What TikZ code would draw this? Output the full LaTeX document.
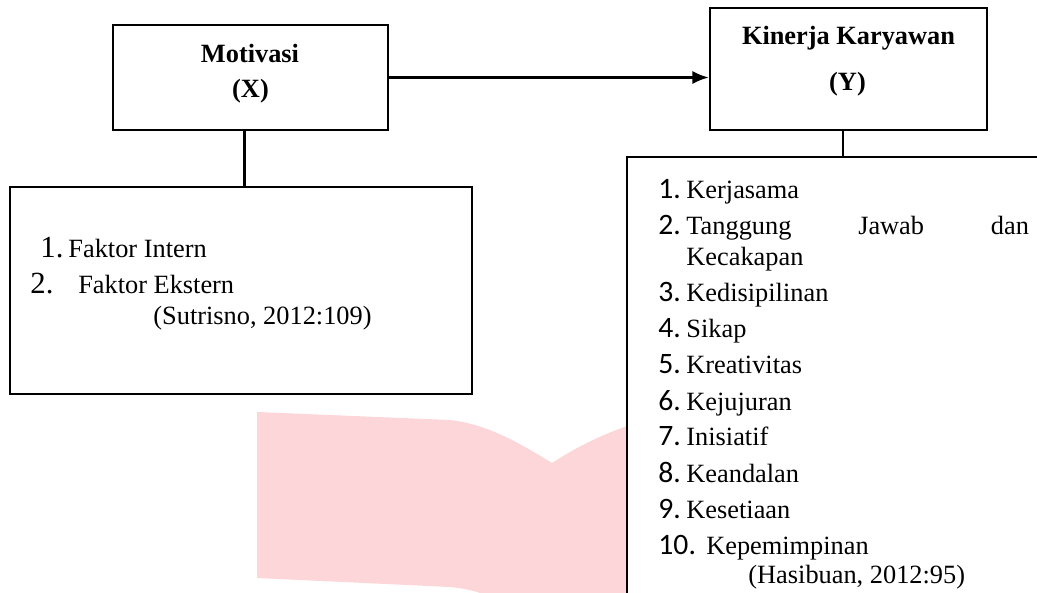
\documentclass[tikz,border=0pt]{standalone}
\usepackage{fontspec}
\setmainfont{Liberation Serif}
\newfontfamily\numfont{Carlito}
\usetikzlibrary{arrows.meta}
\definecolor{wmpink}{HTML}{FDD6D9}

\begin{document}
\begin{tikzpicture}[x=0.016cm,y=-0.016cm,->,>={Latex[length=7.5pt,width=6pt]},
  box node/.style={draw,fill=white,line width=1.1pt,inner sep=0pt},
  title/.style={anchor=base,inner sep=0pt,font=\fontsize{12}{14}\selectfont\bfseries},
  item/.style={anchor=base west,inner sep=0pt,font=\fontsize{12}{14}\selectfont}]

  \useasboundingbox (0,0) rectangle (1037,592);
  \clip (0,0) rectangle (1037,592);

  % watermark
  \fill[wmpink] (257,412) -- (450,420) .. controls (485,424) and (515,440) .. (552,463)
    .. controls (580,445) and (605,432) .. (660,415) -- (660,640) -- (552,640)
    .. controls (515,605) and (485,590) .. (450,587) -- (257,578) -- cycle;

  \node[box node,minimum width=4.4cm,minimum height=1.68cm] (motiv) at (250.5,77.5) {};
  \node[box node,minimum width=4.432cm,minimum height=1.952cm] (kinerja) at (848.5,69) {};
  \node[box node,minimum width=7.392cm,minimum height=3.312cm] (faktor) at (241,290.5) {};
  \node[box node,minimum width=7.568cm,minimum height=7.408cm] (indikator) at (863.5,388.5) {};

  \node[title] (motivT) at (250,62) {Motivasi};
  \node[title] (motivX) at (250.5,97) {(X)};
  \node[title] (kinerjaT) at (848.5,44) {Kinerja Karyawan};
  \node[title] (kinerjaY) at (847.5,90) {(Y)};

  \node[item] (f1) at (40,257) {\makebox[12.75pt][l]{\fontsize{14}{16}\selectfont 1.}Faktor Intern};
  \node[item] (f2) at (30,293) {\makebox[21.8pt][l]{\fontsize{14}{16}\selectfont 2.}Faktor Ekstern};
  \node[item] (fs) at (153,324) {(Sutrisno, 2012:109)};

  \node[item] (k1) at (658,198) {\makebox[12.75pt][l]{\numfont\fontsize{13.5}{16}\selectfont 1.}Kerjasama};
  \node[item] (k2) at (658,234) {\makebox[12.75pt][l]{\numfont\fontsize{13.5}{16}\selectfont 2.}\makebox[156pt][s]{Tanggung\hfill Jawab\hfill dan}};
  \node[item] (kc) at (686,265) {Kecakapan};
  \node[item] (k3) at (658,301) {\makebox[12.75pt][l]{\numfont\fontsize{13.5}{16}\selectfont 3.}Kedisipilinan};
  \node[item] (k4) at (658,337) {\makebox[12.75pt][l]{\numfont\fontsize{13.5}{16}\selectfont 4.}Sikap};
  \node[item] (k5) at (658,373) {\makebox[12.75pt][l]{\numfont\fontsize{13.5}{16}\selectfont 5.}Kreativitas};
  \node[item] (k6) at (658,410) {\makebox[12.75pt][l]{\numfont\fontsize{13.5}{16}\selectfont 6.}Kejujuran};
  \node[item] (k7) at (658,445) {\makebox[12.75pt][l]{\numfont\fontsize{13.5}{16}\selectfont 7.}Inisiatif};
  \node[item] (k8) at (658,482) {\makebox[12.75pt][l]{\numfont\fontsize{13.5}{16}\selectfont 8.}Keandalan};
  \node[item] (k9) at (658,518) {\makebox[12.75pt][l]{\numfont\fontsize{13.5}{16}\selectfont 9.}Kesetiaan};
  \node[item] (k10) at (658,554) {\makebox[21.8pt][l]{\numfont\fontsize{13.5}{16}\selectfont 10.}Kepemimpinan};
  \node[item] (ks) at (748,583) {(Hasibuan, 2012:95)};

  \draw[line width=1.1pt] (motiv.east) -- (motiv.east -| kinerja.west);
  \draw[-,line width=1.1pt] ([xshift=-2.7pt]motiv.south) -- ([xshift=-2.7pt]motiv.south |- faktor.north);
  \draw[-,line width=1.1pt] ([xshift=-2.5pt]kinerja.south) -- ([xshift=-2.5pt]kinerja.south |- indikator.north);
\end{tikzpicture}
\end{document}
